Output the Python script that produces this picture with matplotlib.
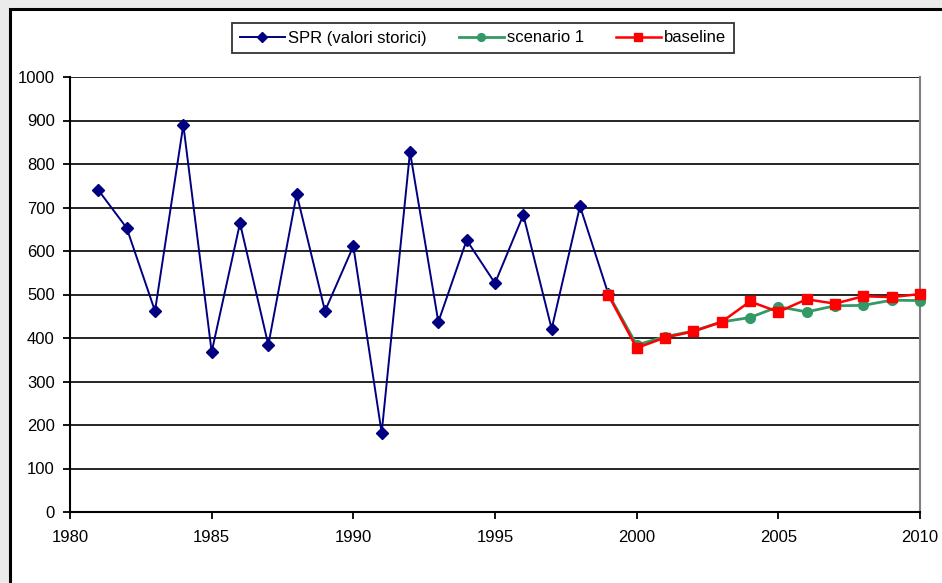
import matplotlib

matplotlib.use("Agg")

import matplotlib.pyplot as plt
from matplotlib.patches import Rectangle

plt.rcParams["font.family"] = ["Liberation Sans", "DejaVu Sans"]
plt.rcParams["font.size"] = 12

# SPR historical series, then the two projections from 1999 onward
spr_years = list(range(1981, 2000))
spr_values = [740, 653, 462, 890, 368, 664, 384, 731, 462, 611,
              182, 828, 437, 625, 526, 683, 421, 703, 501]

proj_years = list(range(1999, 2011))
scenario1 = [501, 384, 403, 416, 437, 447, 472, 460, 474, 475, 487, 486]
baseline = [499, 377, 401, 415, 437, 484, 460, 489, 479, 496, 494, 501]

x_ticks = [1980, 1985, 1990, 1995, 2000, 2005, 2010]
y_ticks = list(range(0, 1001, 100))

W, H = 942, 583
fig = plt.figure(figsize=(W / 100, H / 100), dpi=100)
fig.patch.set_facecolor("#ebebeb")

# white chart area with a heavy black frame, running off the right/bottom
fig.patches.append(Rectangle((10 / W, -0.05), 1.0, 1 - 9 / H + 0.05,
                             transform=fig.transFigure, facecolor="white",
                             edgecolor="black", linewidth=2.2, zorder=-10))

ax = fig.add_axes([70 / W, 1 - 512 / H, 850 / W, 435 / H])
ax.set_facecolor("white")

ax.set_xlim(1980, 2010)
ax.set_ylim(0, 1000)
ax.set_xticks(x_ticks)
ax.set_yticks(y_ticks)
ax.yaxis.grid(True, color="black", linewidth=1.2)
ax.set_axisbelow(True)

ax.spines["top"].set_visible(False)
ax.spines["right"].set_color("#808080")
ax.spines["right"].set_linewidth(1.5)
for side in ["left", "bottom"]:
    ax.spines[side].set_linewidth(1.5)
ax.tick_params(direction="out", length=5, width=1.3, pad=6, labelsize=12)
ax.tick_params(axis="x", pad=8)

ax.plot(spr_years, spr_values, color="#000080", linewidth=1.4,
        marker="D", markersize=6, label="SPR (valori storici)", zorder=3,
        clip_on=False)
ax.plot(proj_years, scenario1, color="#339966", linewidth=2,
        marker="o", markersize=7, label="scenario 1", zorder=4, clip_on=False)
ax.plot(proj_years, baseline, color="#ff0000", linewidth=1.8,
        marker="s", markersize=7, label="baseline", zorder=5, clip_on=False)

leg = fig.legend(loc="center", bbox_to_anchor=(483 / W, 1 - 38 / H), ncol=3,
                 frameon=True, fancybox=False, edgecolor="black",
                 handlelength=2.7, columnspacing=1.9, handletextpad=0.2,
                 borderpad=0.45, fontsize=12, markerscale=0.8)
leg.get_frame().set_linewidth(1.3)

fig.savefig("out.png", dpi=100, facecolor=fig.get_facecolor())
